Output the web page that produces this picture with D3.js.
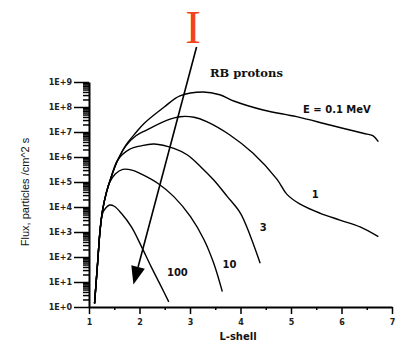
<!DOCTYPE html>
<meta charset="utf-8">
<html>
<head>
<style>
    body { margin: 0; background: #fff; }
    svg { display: block; }
    .domain { stroke: #000; stroke-width: 2; }
    .tick line { stroke: #000; stroke-width: 1.5; }
</style>
<script src="https://d3js.org/d3.v7.min.js"></script>
</head>
<body>
<svg width="399" height="342"></svg>
<script>

// L-shell positions and flux values (particles /cm^2 s)
var lE01 = [1.11, 1.17, 1.22, 1.27, 1.34, 1.44, 1.57, 1.73, 1.93, 2.09, 2.49, 2.80, 3.26, 3.59, 3.88, 4.45, 5.11, 5.77, 6.43, 6.62, 6.73];
var fluxE01 = [1.4, 56, 1.2e3, 7.6e3, 3.5e4, 1.6e5, 7.6e5, 3.0e6, 9.5e6, 2.2e7, 1.0e8, 2.8e8, 4.0e8, 3.1e8, 1.7e8, 7.6e7, 4.1e7, 1.9e7, 8.9e6, 7.1e6, 4.1e6];

var lE1 = [1.11, 1.17, 1.22, 1.27, 1.34, 1.44, 1.57, 1.73, 1.93, 2.14, 2.55, 2.80, 3.08, 3.33, 3.79, 4.25, 4.72, 4.92, 5.18, 5.58, 5.97, 6.37, 6.73];
var fluxE1 = [1.4, 56, 1.2e3, 7.6e3, 3.5e4, 1.6e5, 7.6e5, 2.8e6, 7.1e6, 1.2e7, 3.0e7, 4.1e7, 3.9e7, 2.6e7, 7.6e6, 1.4e6, 1.3e5, 3.2e4, 1.3e4, 5.6e3, 3.0e3, 1.6e3, 650];

var lE3 = [1.11, 1.17, 1.22, 1.27, 1.34, 1.44, 1.57, 1.8, 2.03, 2.29, 2.68, 2.95, 3.21, 3.47, 3.74, 4.0, 4.2, 4.39];
var fluxE3 = [1.4, 56, 1.2e3, 7.6e3, 3.5e4, 1.6e5, 7.6e5, 2.0e6, 2.8e6, 3.3e6, 2.2e6, 1.2e6, 4.1e5, 1.2e5, 2.6e4, 5.6e3, 650, 56];

var lE10 = [1.11, 1.17, 1.22, 1.27, 1.34, 1.40, 1.52, 1.67, 1.85, 2.03, 2.36, 2.68, 3.01, 3.28, 3.47, 3.64];
var fluxE10 = [1.4, 56, 1.2e3, 7.6e3, 3.5e4, 8.9e4, 2.1e5, 3.2e5, 3.0e5, 2.1e5, 8.9e4, 2.6e4, 4.1e3, 480, 56, 4.1];

var lE100 = [1.11, 1.17, 1.22, 1.27, 1.34, 1.41, 1.5, 1.64, 1.84, 2.04, 2.23, 2.43, 2.58];
var fluxE100 = [1.4, 56, 1.2e3, 5.6e3, 9.5e3, 1.2e4, 1.07e4, 5.6e3, 1.6e3, 260, 41, 6.5, 1.6];

var curveNames = ["1", "3", "10", "100"];
var curveLabelL = [5.48, 4.45, 3.78, 2.75];
var curveLabelFlux = [2.2e4, 1.1e3, 35, 18];

var xTicks = [1, 2, 3, 4, 5, 6, 7];
var yTicks = [1, 10, 100, 1e3, 1e4, 1e5, 1e6, 1e7, 1e8, 1e9];

// the arrow drawn over the curves, from the red "I" down to low flux
var arrowL = [3.13, 1.88];
var arrowFlux = [2.5e10, 8];

var svg = d3.select("svg");

var x = d3.scaleLinear()
    .domain([1, 7])
    .range([89, 392]);

var y = d3.scaleLog()
    .domain([1, 1e9])
    .range([307, 82]);

// minor log ticks
var yMinor = [];
yTicks.slice(0, -1).forEach(function(d) {
    for (var k = 2; k <= 9; k++) yMinor.push(d * k);
});

svg.append("g")
    .attr("transform", "translate(89,0)")
    .call(d3.axisLeft(y).tickValues(yMinor).tickSize(6).tickFormat(""))
    .select(".domain").remove();

svg.append("g")
    .attr("transform", "translate(89,0)")
    .call(d3.axisLeft(y).tickValues(yTicks).tickSize(15).tickSizeOuter(0).tickPadding(2)
        .tickFormat(function(d) { return "1E+" + Math.round(Math.log10(d)); }))
    .selectAll("text")
    .attr("font-family", "DejaVu Sans")
    .attr("font-weight", "bold")
    .attr("font-size", 8)
    .attr("fill", "#222");

svg.append("g")
    .attr("transform", "translate(0,307)")
    .call(d3.axisBottom(x).tickValues([1.5, 2.5, 3.5, 4.5, 5.5, 6.5]).tickSize(3).tickFormat(""))
    .select(".domain").remove();

svg.append("g")
    .attr("transform", "translate(0,307)")
    .call(d3.axisBottom(x).tickValues(xTicks).tickSize(7).tickSizeOuter(0).tickPadding(5)
        .tickFormat(d3.format("d")))
    .selectAll("text")
    .attr("font-family", "DejaVu Sans")
    .attr("font-weight", "bold")
    .attr("font-size", 8)
    .attr("fill", "#222");

// axis titles
svg.append("text")
    .attr("transform", "translate(29,192) rotate(-90)")
    .attr("text-anchor", "middle")
    .attr("font-family", "Liberation Sans")
    .attr("font-size", 11)
    .attr("fill", "#111")
    .text("Flux, particles /cm^2 s");

svg.append("text")
    .attr("x", 238)
    .attr("y", 340)
    .attr("text-anchor", "middle")
    .attr("font-family", "DejaVu Sans")
    .attr("font-weight", "bold")
    .attr("font-size", 10)
    .attr("fill", "#111")
    .text("L-shell");

// curves
var line = d3.line()
    .x(function(d) { return x(d[0]); })
    .y(function(d) { return y(d[1]); })
    .curve(d3.curveCatmullRom.alpha(0.5));

var series = [[lE01, fluxE01], [lE1, fluxE1], [lE3, fluxE3], [lE10, fluxE10], [lE100, fluxE100]];

svg.append("g")
    .attr("fill", "none")
    .attr("stroke", "#000")
    .attr("stroke-width", 1.4)
    .selectAll("path")
    .data(series)
    .enter().append("path")
    .attr("d", function(s) { return line(d3.zip(s[0], s[1])); });

// curve labels
svg.append("g")
    .selectAll("text")
    .data(curveNames)
    .enter().append("text")
    .attr("x", function(d, i) { return x(curveLabelL[i]); })
    .attr("y", function(d, i) { return y(curveLabelFlux[i]); })
    .attr("text-anchor", "middle")
    .attr("font-family", "DejaVu Sans")
    .attr("font-weight", "bold")
    .attr("font-size", 10)
    .attr("fill", "#111")
    .text(function(d) { return d; });

svg.append("text")
    .attr("x", 303)
    .attr("y", 113)
    .attr("font-family", "DejaVu Sans")
    .attr("font-weight", "bold")
    .attr("font-size", 10)
    .attr("fill", "#111")
    .text("E = 0.1 MeV");

svg.append("text")
    .attr("x", 210)
    .attr("y", 77)
    .attr("font-family", "DejaVu Serif")
    .attr("font-weight", "bold")
    .attr("font-size", 11.5)
    .attr("fill", "#111")
    .text("RB protons");

// red marker and arrow
svg.append("text")
    .attr("x", 193)
    .attr("y", 43)
    .attr("text-anchor", "middle")
    .attr("font-family", "Liberation Serif")
    .attr("font-size", 47)
    .attr("fill", "#f2431e")
    .text("I");

var ax0 = x(arrowL[0]), ay0 = y(arrowFlux[0]),
    ax1 = x(arrowL[1]), ay1 = y(arrowFlux[1]);
var ang = Math.atan2(ay1 - ay0, ax1 - ax0);
var headLen = 18, headHalf = 7;
var bx = ax1 - headLen * Math.cos(ang), by = ay1 - headLen * Math.sin(ang);

svg.append("line")
    .attr("x1", ax0).attr("y1", ay0)
    .attr("x2", bx).attr("y2", by)
    .attr("stroke", "#000")
    .attr("stroke-width", 1.6);

svg.append("path")
    .attr("d", "M" + ax1 + "," + ay1 +
        "L" + (bx + headHalf * Math.sin(ang)) + "," + (by - headHalf * Math.cos(ang)) +
        "L" + (bx - headHalf * Math.sin(ang)) + "," + (by + headHalf * Math.cos(ang)) + "Z")
    .attr("fill", "#000");

</script>
</body>
</html>
